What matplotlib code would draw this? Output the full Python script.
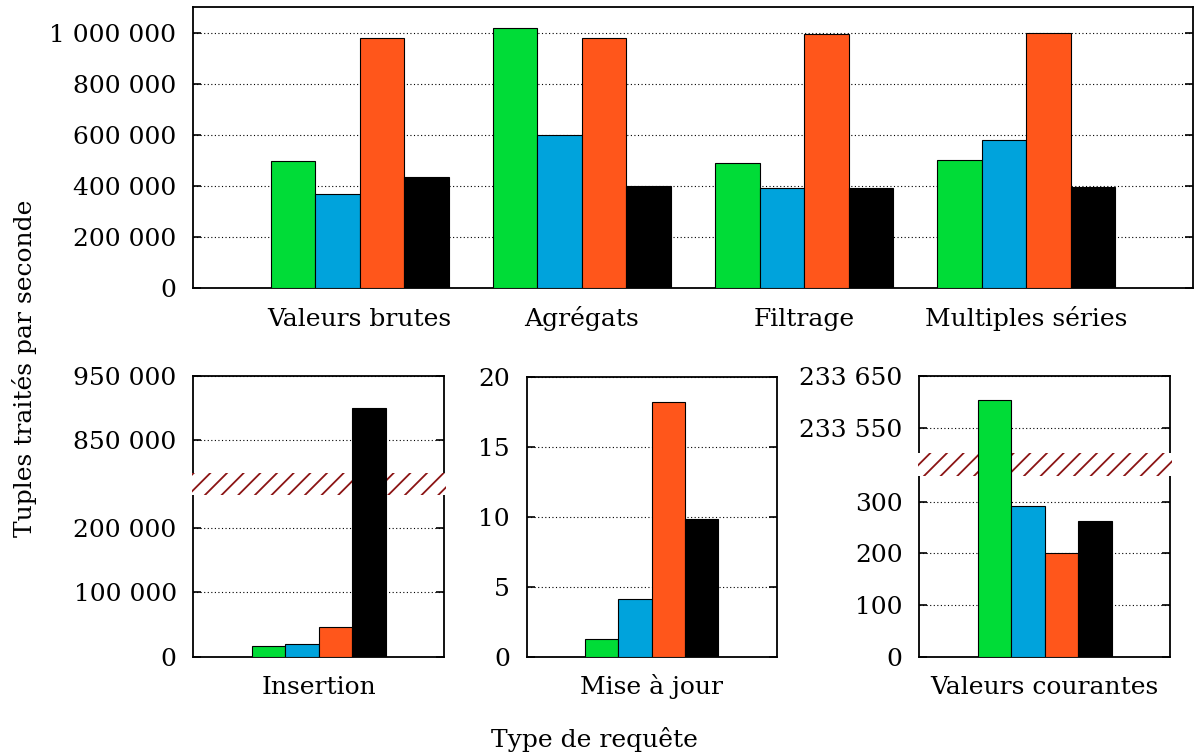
import numpy as np
import matplotlib
matplotlib.use("Agg")
import matplotlib.pyplot as plt
from matplotlib.patches import Rectangle
from matplotlib.ticker import FixedLocator, FuncFormatter
import matplotlib.transforms as mtransforms

# ---------------- data ----------------
top_categories = ["Valeurs brutes", "Agrégats", "Filtrage", "Multiples séries"]
top_green = [496000, 1016000, 490000, 502000]
top_blue = [369000, 597000, 392000, 580000]
top_orange = [978000, 980000, 993000, 1000000]
top_black = [433000, 398000, 392000, 397000]
top_yticks = [0, 200000, 400000, 600000, 800000, 1000000]

insertion_label = "Insertion"
insertion_values = [16700, 19300, 45800, 900000]
insertion_yticks = [0, 100000, 200000, 850000, 950000]

update_label = "Mise à jour"
update_values = [1.24, 4.14, 18.17, 9.83]
update_yticks = [0, 5, 10, 15, 20]

current_label = "Valeurs courantes"
current_values = [233603, 292, 201, 262]
current_yticks = [0, 100, 200, 300, 233550, 233650]

ylabel_text = "Tuples traités par seconde"
xlabel_text = "Type de requête"

# ---------------- style ----------------
colors = ["#00DC37", "#00A3DC", "#FF561B", "#000000"]
plt.rcParams["font.family"] = ["DejaVu Serif"]
plt.rcParams["hatch.linewidth"] = 1.3
FS = 18
W, H = 1195, 755
fig = plt.figure(figsize=(W / 100, H / 100), dpi=100)


def box(l, t, r, b):
    return [l / W, 1 - b / H, (r - l) / W, (b - t) / H]


def fmt(v, pos=None):
    return f"{int(round(v)):,}".replace(",", " ")


def style(ax):
    for s in ax.spines.values():
        s.set_linewidth(1.3)
        s.set_zorder(2.5)
    ax.set_axisbelow(True)
    ax.yaxis.grid(True, color="black", linestyle=(0, (1, 2.2)), linewidth=0.8)
    ax.tick_params(axis="y", direction="in", length=6, width=1.2, left=True,
                   right=True, labelsize=FS, pad=12)
    ax.tick_params(axis="x", length=0, labelsize=FS, pad=27)
    for lab in ax.get_xticklabels():
        lab.set_verticalalignment("baseline")
    ax.yaxis.set_major_formatter(FuncFormatter(fmt))


def draw_group(ax, values_by_series, positions, width=0.2):
    n = len(values_by_series)
    for i, vals in enumerate(values_by_series):
        offs = (i - (n - 1) / 2) * width
        ax.bar(np.asarray(positions) + offs, vals, width, color=colors[i],
               edgecolor="black", linewidth=0.8, zorder=3)


def broken_scale(ax, lo_top, hi_bot, gap):
    span = hi_bot - lo_top

    def fwd(v):
        v = np.asarray(v, dtype=float)
        return np.where(v <= lo_top, v,
                        np.where(v >= hi_bot, lo_top + gap + (v - hi_bot),
                                 lo_top + (v - lo_top) / span * gap))

    def inv(u):
        u = np.asarray(u, dtype=float)
        return np.where(u <= lo_top, u,
                        np.where(u >= lo_top + gap, hi_bot + (u - lo_top - gap),
                                 lo_top + (u - lo_top) / gap * span))

    ax.set_yscale("function", functions=(fwd, inv))
    trans = mtransforms.blended_transform_factory(ax.transAxes, ax.transData)
    band = Rectangle((-0.006, lo_top), 1.012, span, transform=trans,
                     facecolor="white", edgecolor="#8B1414", linewidth=0,
                     hatch="//", zorder=2.6, clip_on=False)
    ax.add_patch(band)


# ---------------- top panel ----------------
ax0 = fig.add_axes(box(193, 7, 1193, 288))
x = np.arange(len(top_categories))
draw_group(ax0, [top_green, top_blue, top_orange, top_black], x)
ax0.set_xlim(-0.75, len(top_categories) - 0.25)
ax0.set_ylim(0, 1100000)
ax0.yaxis.set_major_locator(FixedLocator(top_yticks))
ax0.set_xticks(x)
ax0.set_xticklabels(top_categories)
style(ax0)

# ---------------- bottom left: Insertion ----------------
ax1 = fig.add_axes(box(193.3, 376, 444.3, 656.7))
broken_scale(ax1, 250000, 800000, 35300)
draw_group(ax1, [[v] for v in insertion_values], [0])
ax1.set_xlim(-0.75, 0.75)
ax1.set_ylim(0, 950000)
ax1.yaxis.set_major_locator(FixedLocator(insertion_yticks))
ax1.set_xticks([0])
ax1.set_xticklabels([insertion_label])
style(ax1)

# ---------------- bottom middle: Mise à jour ----------------
ax2 = fig.add_axes(box(526.7, 376.7, 776.7, 656.7))
draw_group(ax2, [[v] for v in update_values], [0])
ax2.set_xlim(-0.75, 0.75)
ax2.set_ylim(0, 20)
ax2.yaxis.set_major_locator(FixedLocator(update_yticks))
ax2.set_xticks([0])
ax2.set_xticklabels([update_label])
style(ax2)

# ---------------- bottom right: Valeurs courantes ----------------
ax3 = fig.add_axes(box(919.3, 376, 1170, 656.7))
broken_scale(ax3, 350, 233500, 43.5)
draw_group(ax3, [[v] for v in current_values], [0])
ax3.set_xlim(-0.75, 0.75)
ax3.set_ylim(0, 233650)
ax3.yaxis.set_major_locator(FixedLocator(current_yticks))
ax3.set_xticks([0])
ax3.set_xticklabels([current_label])
style(ax3)

# ---------------- labels ----------------
fig.text(25 / W, 1 - 368 / H, ylabel_text, rotation=90, ha="center",
         va="center", fontsize=FS)
fig.text(594 / W, 1 - 747 / H, xlabel_text, ha="center", va="baseline",
         fontsize=FS)

fig.savefig("out.png", dpi=100)
